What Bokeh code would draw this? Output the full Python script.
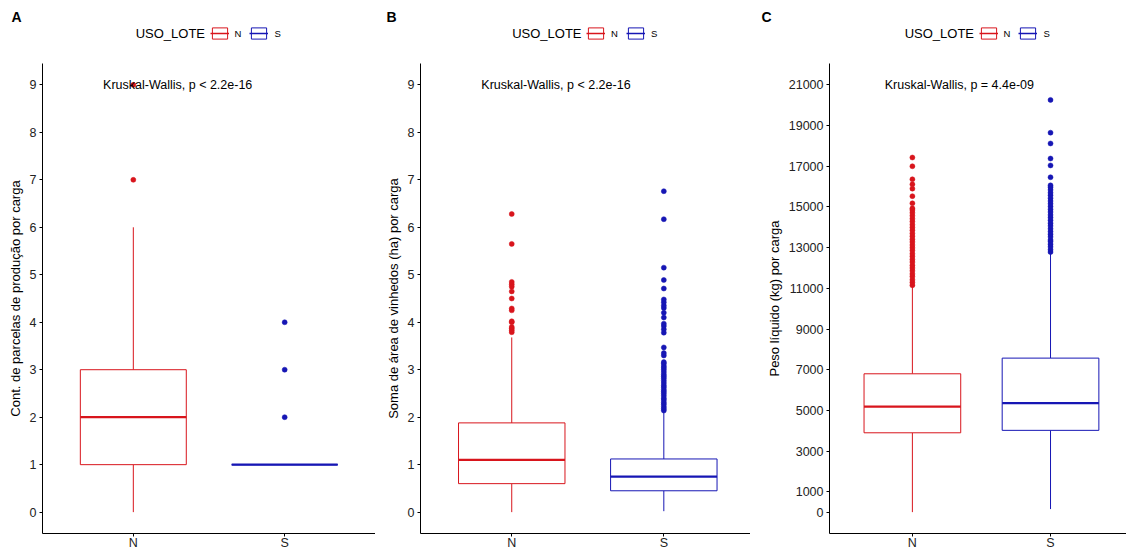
from bokeh.plotting import figure
from bokeh.layouts import row, column
from bokeh.models import Range1d, FixedTicker, Legend, LegendItem, ColumnDataSource, Label
from bokeh.core.properties import value
from bokeh.embed import file_html
from bokeh.resources import INLINE

groups = ["N", "S"]
group_colors = ["#D8151C", "#1616B4"]
legend_title = "USO_LOTE"

# Panel A - count of production plots per load
a_low = [0, 1]
a_q1 = [1, 1]
a_med = [2, 1]
a_q3 = [3, 1]
a_high = [6, 1]
a_out_N = [7, 9]
a_out_S = [2, 3, 4]

# Panel B - summed vineyard area (ha) per load
b_low = [0.0, 0.02]
b_q1 = [0.60, 0.45]
b_med = [1.10, 0.75]
b_q3 = [1.88, 1.12]
b_high = [3.68, 2.12]
b_out_N = [3.79, 3.83, 3.87, 3.90, 4.00, 4.02, 4.25, 4.29, 4.50, 4.65,
           4.75, 4.80, 4.85, 5.65, 6.28]
b_out_S = [2.14, 2.18, 2.22, 2.27, 2.31, 2.36, 2.40, 2.45, 2.50, 2.54,
           2.58, 2.63, 2.67, 2.72, 2.77, 2.82, 2.86, 2.90, 2.95, 3.00,
           3.04, 3.08, 3.13, 3.16, 3.30, 3.35, 3.47, 3.78, 3.85, 3.92,
           3.97, 4.10, 4.20, 4.30, 4.35, 4.42, 4.48, 4.71, 4.89, 5.15,
           6.17, 6.76]

# Panel C - net weight (kg) per load
c_low = [0, 150]
c_q1 = [3900, 4020]
c_med = [5190, 5355]
c_q3 = [6800, 7570]
c_high = [11100, 12750]
c_out_N = [11150, 11290, 11420, 11580, 11710, 11860, 12000, 12130, 12290,
           12420, 12570, 12700, 12860, 12990, 13130, 13280, 13410, 13560,
           13700, 13850, 13990, 14130, 14280, 14420, 14570, 14710, 14850,
           14930, 15180, 15530, 15900, 16110, 16360, 17000, 17430]
c_out_S = [12780, 12900, 13040, 13170, 13300, 13380, 13530, 13660, 13790,
           13930, 14070, 14200, 14340, 14480, 14610, 14750, 14880, 15020,
           15160, 15290, 15430, 15570, 15700, 15840, 15970, 16060, 16460,
           17040, 17380, 18120, 18650, 20260]

FONT = "Liberation Sans"
HEADER_H = 63
BODY_H = 552 - HEADER_H


def make_header(letter, width, border_left):
    """Panel letter plus the USO_LOTE key, in a strip above the panel.

    Inside a column the strip's frame lines up with the panel frame below it,
    so positions here are measured from the panel frame's left edge."""
    h = figure(width=width, height=HEADER_H, output_backend="svg", toolbar_location=None,
               x_range=Range1d(0, 1), y_range=Range1d(0, 1),
               x_axis_type=None, y_axis_type=None, title=letter,
               min_border_left=0, min_border_right=0, min_border_top=0,
               min_border_bottom=0)
    h.outline_line_color = None
    h.grid.visible = False
    h.title.text_font = FONT
    h.title.text_font_size = "14px"
    h.title.text_font_style = "bold"
    h.title.text_color = "black"
    h.title.align = "left"
    h.title.offset = 11 - border_left
    h.title.standoff = 0
    h.title.padding = dict(left=0, right=0, top=6, bottom=0)

    # key renderers sit outside the visible range; only their legend icons show
    items = []
    for g, c in zip(groups, group_colors):
        box = h.quad(left=[5], right=[6], bottom=[5], top=[6], fill_color="white",
                     line_color=c, line_width=1)
        mline = h.segment(x0=[5], y0=[5], x1=[6], y1=[5], line_color=c, line_width=1.5)
        items.append(LegendItem(label=g, renderers=[box, mline]))

    center = (width - border_left) / 2
    legend = Legend(items=items, orientation="horizontal",
                    location=(center + 1, HEADER_H - 33 - 7))
    legend.label_text_font = FONT
    legend.label_text_font_size = "9.5px"
    legend.label_text_color = "black"
    legend.label_height = 13
    legend.label_width = 0
    legend.glyph_width = 19
    legend.glyph_height = 14
    legend.label_standoff = 6
    legend.spacing = 8
    legend.padding = 2
    legend.margin = 0
    legend.border_line_color = None
    legend.background_fill_alpha = 0
    h.add_layout(legend, "center")

    h.add_layout(Label(x=center - 4, y=HEADER_H - 33, x_units="screen", y_units="screen",
                       text=legend_title, text_font=FONT, text_font_size="13px",
                       text_color="black", text_align="right",
                       text_baseline="alphabetic"))
    return h


def make_panel(low, q1, med, q3, high, outliers, ylabel, y_start, y_end,
               yticks, x_end, border_left, width, ptext, p_y):
    p = figure(width=width, height=BODY_H, output_backend="svg", toolbar_location=None,
               x_range=Range1d(0.4, x_end), y_range=Range1d(y_start, y_end),
               min_border_left=border_left, min_border_right=0,
               min_border_top=0, min_border_bottom=0)
    p.outline_line_color = None
    p.grid.visible = False

    pos = [i + 1 for i in range(len(groups))]
    for i, g in enumerate(groups):
        c = group_colors[i]
        s = ColumnDataSource(dict(x=[pos[i]], low=[low[i]], q1=[q1[i]], med=[med[i]],
                                  q3=[q3[i]], high=[high[i]],
                                  left=[pos[i] - 0.35], right=[pos[i] + 0.35]))
        p.segment(x0="x", y0="q3", x1="x", y1="high", source=s, line_color=c, line_width=1)
        p.segment(x0="x", y0="low", x1="x", y1="q1", source=s, line_color=c, line_width=1)
        p.quad(left="left", right="right", bottom="q1", top="q3", source=s,
               fill_color="white", line_color=c, line_width=1)
        p.segment(x0="left", y0="med", x1="right", y1="med", source=s,
                  line_color=c, line_width=2.2)
        outs = outliers[i]
        p.scatter(x=[pos[i]] * len(outs), y=outs, size=5, fill_color=c,
                  line_color=c, line_width=0.5)

    p.text(x=[0.8], y=[p_y], text=[ptext], text_font=value(FONT),
           text_font_size="12.5px", text_color="black", text_align="left",
           text_baseline="alphabetic")

    for ax in (p.xaxis[0], p.yaxis[0]):
        ax.axis_line_color = "black"
        ax.axis_line_width = 1
        ax.major_tick_line_color = "black"
        ax.major_tick_out = 3
        ax.major_tick_in = 0
        ax.minor_tick_line_color = None
        ax.major_label_text_font = FONT
        ax.major_label_text_font_size = "12.5px"
        ax.major_label_text_color = "#222222"
        ax.major_label_standoff = 3

    p.xaxis.ticker = FixedTicker(ticks=pos)
    p.xaxis.major_label_overrides = {pos[i]: g for i, g in enumerate(groups)}
    p.xaxis.major_label_text_font_size = "12.5px"
    p.xaxis.major_label_standoff = -1

    p.yaxis.ticker = FixedTicker(ticks=yticks)
    p.yaxis.axis_label = ylabel
    p.yaxis.axis_label_text_font = FONT
    p.yaxis.axis_label_text_font_size = "13px"
    p.yaxis.axis_label_text_font_style = "normal"
    p.yaxis.axis_label_text_color = "black"
    p.yaxis.axis_label_standoff = 4
    return p


ticks_09 = list(range(0, 10))
ticks_c = [0, 1000, 3000, 5000, 7000, 9000, 11000, 13000, 15000, 17000, 19000, 21000]

pa = make_panel(a_low, a_q1, a_med, a_q3, a_high, [a_out_N, a_out_S],
                "Cont. de parcelas de produção por carga", -0.45, 9.45, ticks_09,
                2.6, 42, 375, "Kruskal-Wallis, p < 2.2e-16", 9)
pb = make_panel(b_low, b_q1, b_med, b_q3, b_high, [b_out_N, b_out_S],
                "Soma de área de vinhedos (ha) por carga", -0.45, 9.45, ticks_09,
                2.57, 45, 375, "Kruskal-Wallis, p < 2.2e-16", 9)
pc = make_panel(c_low, c_q1, c_med, c_q3, c_high, [c_out_N, c_out_S],
                "Peso líquido (kg) por carga", -1050, 22050, ticks_c,
                2.55, 79, 376, "Kruskal-Wallis, p = 4.4e-09", 21000)

layout = row(column(make_header("A", 375, 42), pa, spacing=0),
             column(make_header("B", 375, 45), pb, spacing=0),
             column(make_header("C", 376, 79), pc, spacing=0),
             spacing=0)
open("out.html", "w").write(file_html(layout, INLINE))
